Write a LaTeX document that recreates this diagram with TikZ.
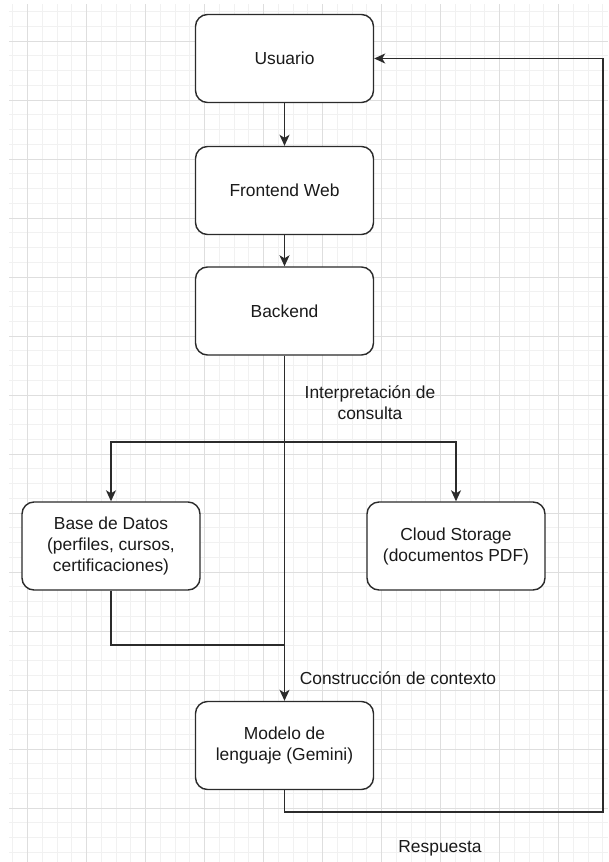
\documentclass[tikz,border=0pt]{standalone}
\usepackage{fontspec}
\setmainfont{Liberation Sans}
\usetikzlibrary{arrows.meta}
\definecolor{gridminor}{HTML}{F1F1F1}
\definecolor{gridmajor}{HTML}{DEDEDE}
\definecolor{edge}{HTML}{2B2B2B}
\definecolor{ink}{HTML}{1A1A1A}
\tikzset{
  box/.style={draw=edge, line width=1.4pt, rounded corners=12pt, fill=white,
    minimum width=178pt, minimum height=88pt, align=center, text=ink,
    inner sep=0pt},
  conn/.style={draw=edge, line width=1.4pt},
  arr/.style={conn, -{Stealth[length=11pt,width=10pt,inset=3pt]}},
  lbl/.style={text=ink, align=center, inner sep=0pt},
}
\begin{document}
\begin{tikzpicture}[x=1pt, y=-1pt, font=\fontsize{17.4}{21}\selectfont]
\useasboundingbox (0,0) rectangle (608,862);
\fill[white] (0,0) rectangle (608,862);

% background grid
\begin{scope}
\clip (9,4) rectangle (608,862);
\foreach \i in {-1,...,40} {
  \draw[gridminor, line width=0.8pt] ({27.5+14.75*\i},4) -- ++(0,858);
}
\foreach \i in {-3,...,57} {
  \draw[gridminor, line width=0.8pt] (9,{41+14.75*\i}) -- ++(599,0);
}
\foreach \i in {0,...,10} {
  \draw[gridmajor, line width=0.9pt] ({27.5+59*\i},4) -- ++(0,858);
}
\foreach \i in {-1,...,14} {
  \draw[gridmajor, line width=0.9pt] (9,{41+59*\i}) -- ++(599,0);
}
\end{scope}

% boxes
\node[box] (usuario)  at (284.5,58.5)  {Usuario};
\node[box] (frontend) at (284.5,190.5) {Frontend Web};
\node[box] (backend)  at (284.5,311)   {Backend};
\node[box] (base)     at (111,546)     {Base de Datos\\(perfiles, cursos,\\certificaciones)};
\node[box] (cloud)    at (456,546)     {Cloud Storage\\(documentos PDF)};
\node[box] (modelo)   at (284.5,745.5) {Modelo de\\lenguaje (Gemini)};

% routing points
\coordinate (split) at (284.5,442);
\coordinate (join)  at (284.5,645);
\coordinate (retB)  at (603,812);
\coordinate (retT)  at (603,58.5);

% connectors
\draw[arr] (usuario) -- (frontend);
\draw[arr] (frontend) -- (backend);
\draw[arr] (backend.south) -- (modelo.north);
\draw[arr] (backend.south) |- (split) -| (base.north);
\draw[arr] (split) -| (cloud.north);
\draw[conn] (base.south) |- (join);
\draw[arr] (modelo.south) |- (retB) -- (retT) -- (usuario.east);

% labels
\node[lbl] (interp) at (370,402.5) {Interpretación de\\consulta};
\node[lbl] (constr) at (398,678) {Construcción de contexto};
\node[lbl] (resp)   at (440,848) {Respuesta};
\end{tikzpicture}
\end{document}
